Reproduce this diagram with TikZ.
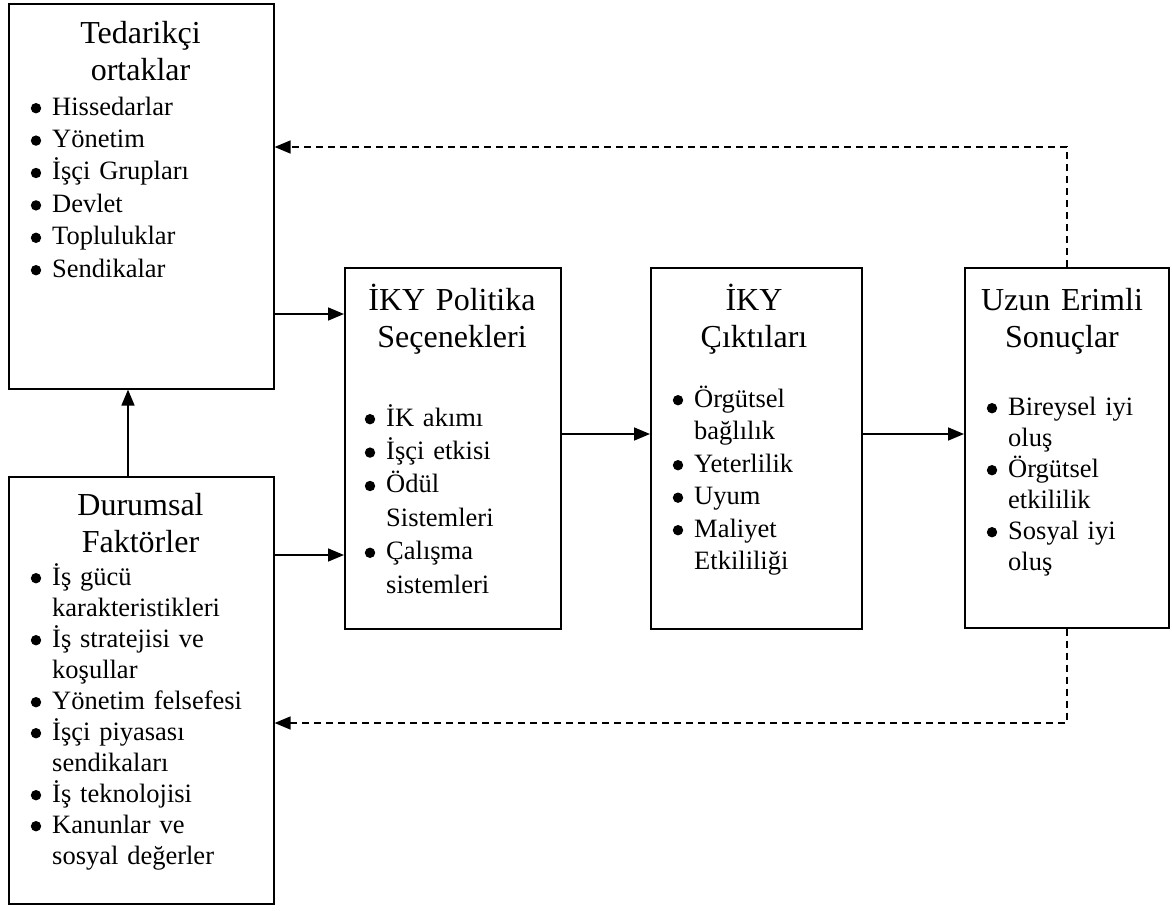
\documentclass[tikz,border=0pt]{standalone}
\usepackage{fontspec}
\setmainfont{Liberation Serif}
\usetikzlibrary{arrows.meta}
% round bullet hung in front of the line start
\newcommand{\blt}{\leavevmode\llap{\tikz[baseline=0pt]\fill (0pt,6.8pt) circle[radius=5.2pt];\hspace{11pt}}}
\begin{document}
\begin{tikzpicture}[x=1pt,y=-1pt,
  frame/.style={draw, line width=1.6pt, inner sep=0pt, anchor=north west},
  heading/.style={anchor=base, inner sep=0pt, align=center, text width=#1,
    font=\fontsize{32}{37}\selectfont},
  entries/.style={anchor=base west, inner sep=0pt, align=left, text width=#1},
  arrow/.style={-{Triangle[length=16pt,width=13pt]}, line width=1.6pt},
  feedback/.style={arrow, dash pattern=on 7pt off 5pt}]
\useasboundingbox (0,0) rectangle (1172,910);

% boxes
\node[frame, minimum width=265pt, minimum height=385pt] (A) at (8,3) {};
\node[frame, minimum width=265pt, minimum height=427pt] (B) at (8,476) {};
\node[frame, minimum width=216pt, minimum height=361pt] (C) at (344,267) {};
\node[frame, minimum width=211pt, minimum height=361pt] (D) at (650,267) {};
\node[frame, minimum width=204pt, minimum height=360pt] (E) at (964,267) {};

% headings
\node[heading=250pt] (Ah) at (140.5,43) {Tedarikçi\\ortaklar};
\node[heading=250pt] (Bh) at (140.5,515) {Durumsal\\Faktörler};
\node[heading=210pt] (Ch) at (452,310) {İKY Politika\\Seçenekleri};
\node[heading=205pt] (Dh) at (754,310) {İKY\\Çıktıları};
\node[heading=200pt] (Eh) at (1062,310) {Uzun Erimli\\Sonuçlar};

% bullet lists
\node[entries=215pt, font=\fontsize{26.5}{32.4}\selectfont] (Al) at (52,115)
  {\blt Hissedarlar\\\blt Yönetim\\\blt İşçi Grupları\\\blt Devlet\\\blt Topluluklar\\\blt Sendikalar};
\node[entries=215pt, font=\fontsize{26.5}{31}\selectfont] (Bl) at (52,585)
  {\blt İş gücü\\karakteristikleri\\\blt İş stratejisi ve\\koşullar\\\blt Yönetim felsefesi\\\blt İşçi piyasası\\sendikaları\\\blt İş teknolojisi\\\blt Kanunlar ve\\sosyal değerler};
\node[entries=170pt, font=\fontsize{26.5}{33.4}\selectfont] (Cl) at (386,426)
  {\blt İK akımı\\\blt İşçi etkisi\\\blt Ödül\\Sistemleri\\\blt Çalışma\\sistemleri};
\node[entries=165pt, font=\fontsize{26.5}{32.5}\selectfont] (Dl) at (694,407)
  {\blt Örgütsel\\bağlılık\\\blt Yeterlilik\\\blt Uyum\\\blt Maliyet\\Etkililiği};
\node[entries=158pt, font=\fontsize{26.5}{31}\selectfont] (El) at (1008,415)
  {\blt Bireysel iyi\\oluş\\\blt Örgütsel\\etkililik\\\blt Sosyal iyi\\oluş};

% connectors
\draw[arrow] (A.east |- 0,314) -- (C.west |- 0,314);
\draw[arrow] (B.east |- 0,555) -- (C.west |- 0,555);
\draw[arrow] (B.north -| 128,0) -- (A.south -| 128,0);
\draw[arrow] (C.east |- 0,434) -- (D.west |- 0,434);
\draw[arrow] (D.east |- 0,434) -- (E.west |- 0,434);
\draw[feedback] (E.north) |- (A.east |- 0,147);
\draw[feedback] (E.south) |- (B.east |- 0,723);
\end{tikzpicture}
\end{document}
